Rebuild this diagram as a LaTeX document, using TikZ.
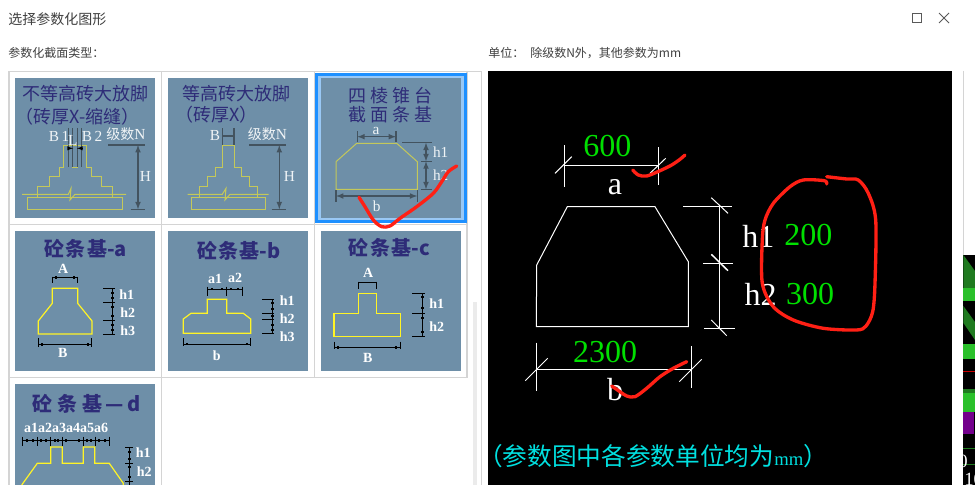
\documentclass[tikz,border=0pt]{standalone}
\usepackage{fontspec}
\setmainfont{Liberation Serif}
\newfontfamily\cjk{Noto Sans CJK SC}
\usetikzlibrary{calc}
\definecolor{panelblue}{HTML}{6E8FA8}
\definecolor{gridgray}{HTML}{D4D4D4}
\definecolor{selblue}{HTML}{1E90FF}
\definecolor{sellight}{HTML}{99C8F5}
\definecolor{titlenavy}{HTML}{2E2C78}
\definecolor{footyellow}{HTML}{C4C85A}
\definecolor{dimslate}{HTML}{43535F}
\definecolor{handred}{HTML}{FF2015}
\definecolor{cadgreen}{HTML}{00E000}
\definecolor{cadcyan}{HTML}{00E0E0}
\definecolor{stripe}{HTML}{2AC02A}
\definecolor{stripedark}{HTML}{1F7A1F}
\tikzset{
	uitext/.style={anchor=west,text=black!75,inner sep=0pt,font=\fontsize{#1}{#1}\selectfont\cjk},
	paneltitle/.style={text=titlenavy,inner sep=0pt,font=\fontsize{13.5}{13.5}\selectfont\cjk},
	boldtitle/.style={text=titlenavy,inner sep=0pt,font=\fontsize{15}{15}\selectfont\cjk\bfseries},
	softlabel/.style={text=white!90!panelblue,inner sep=0pt,font=\fontsize{11.5}{11.5}\selectfont},
	boldlabel/.style={text=white,inner sep=0pt,font=\fontsize{10.5}{10.5}\selectfont\bfseries},
	cadlabel/.style={text=white,inner sep=0pt,font=\fontsize{24}{24}\selectfont},
	cadvalue/.style={text=cadgreen,inner sep=0pt,font=\fontsize{24}{24}\selectfont},
	foot/.style={draw=footyellow,line width=0.75pt},
	footsharp/.style={draw=yellow!85!white,line width=0.9pt},
	softdim/.style={draw=dimslate,line width=0.9pt},
	harddim/.style={draw=black,line width=0.75pt},
	cadline/.style={draw=white,line width=0.75pt},
	hand/.style={draw=handred,line width=2.5pt,line cap=round,line join=round}
}
\def\panelbox(#1,#2)(#3,#4){\fill[panelblue] (#1,#2) rectangle (#3,#4);}
\def\dimdot(#1,#2){\fill[black] (#1-1.3,#2-1.3) rectangle (#1+1.3,#2+1.3);}
\def\fwopen{^^^^ff08}
\def\fwclose{^^^^ff09}
\def\fwcolon{^^^^ff1a}
\def\fwcomma{^^^^ff0c}
\begin{document}
\begin{tikzpicture}[x=0.75pt,y=-0.75pt,>=latex]
	\useasboundingbox (0,0) rectangle (975,485);
	%%%%% WINDOW %%%%%
	\fill[white] (0,0) rectangle (975,485);
	\node[uitext=10.5] (wintitle) at (8,19) {选择参数化图形};
	\node[uitext=9] (typelabel) at (8,53) {参数化截面类型\fwcolon};
	\node[uitext=9] (unitlabel) at (488,53) {单位\fwcolon};
	\node[uitext=9] (unitnote) at (530,53) {除级数N外\fwcomma 其他参数为mm};
	\draw[black!65,line width=0.75pt] (912.5,13.5) rectangle (921.5,22.5);
	\draw[black!65,line width=0.75pt] (939,13) -- (949,23);
	\draw[black!65,line width=0.75pt] (949,13) -- (939,23);
	%%%%% GRID %%%%%
	\draw[gridgray,line width=1pt] (9,485) -- (9,71.5) -- (481.5,71.5) -- (481.5,485);
	\draw[gridgray,line width=1pt] (467,71.5) -- (467,377.5) -- (9,377.5);
	\draw[gridgray,line width=1pt] (9,224.5) -- (467,224.5);
	\draw[gridgray,line width=1pt] (161.5,71.5) -- (161.5,485);
	\draw[gridgray,line width=1pt] (314.5,71.5) -- (314.5,377.5);
	\fill[black!8] (473,302) rectangle (477,485);
	%%%%% PANEL 1 %%%%%
	\panelbox(15,78)(155,218)
	\node[paneltitle] (bigfootA) at (85.5,94) {不等高砖大放脚};
	\node[paneltitle,anchor=west] (bigfootAb) at (15,117) {\fwopen 砖厚X-缩缝\fwclose};
	\draw[foot] (27.7,197.3) rectangle (122.7,209.3);
	\draw[foot] (37.7,197.3) -- (37.7,186.7) -- (49,186.7) -- (49,176.3) -- (59.3,176.3) -- (59.3,167.3) -- (63.3,167.3) -- (63.3,145) -- (86.7,145) -- (86.7,167.3) -- (91.7,167.3) -- (91.7,176.3) -- (101.7,176.3) -- (101.7,186.7) -- (112.7,186.7) -- (112.7,197.3);
	\draw[foot] (72.7,145) -- (72.7,167.3) -- (77.7,167.3) -- (77.7,145);
	\draw[foot] (22,194.3) -- (68.3,194.3) -- (71,188.3) -- (70,200) -- (75,194.3) -- (126,194.3);
	\draw[softdim] (108,145) -- (145,145);
	\draw[softdim,<->] (138,145) -- (138,209.3);
	\draw[softdim] (130.7,209.3) -- (145,209.3);
	\foreach \xpos in {68.3,72.7,77.7,81.7}
		\draw[dimslate,line width=0.5pt] (\xpos,128) -- (\xpos,167);
	\draw[black,line width=0.5pt,->] (68.3,148.3) -- (73,148.3);
	\draw[black,line width=0.5pt,->] (82,148.3) -- (77,148.3);
	\node[softlabel] (levelA) at (126,134.3) {{\cjk\fontsize{10.5}{10.5}\selectfont 级数}N};
	\node[softlabel] (heightA) at (145.3,176.7) {H};
	\node[softlabel] (widthone) at (59,136) {B\,1};
	\node[softlabel] (widthtwo) at (92,136) {B\,2};
	\node[softlabel] (slotL) at (72.7,140) {L};
	%%%%% PANEL 2 %%%%%
	\panelbox(168,78)(308,218)
	\node[paneltitle] (bigfootB) at (236,94) {等高砖大放脚};
	\node[paneltitle,anchor=west] (bigfootBb) at (175,115) {\fwopen 砖厚X\fwclose};
	\draw[foot] (191,197.3) rectangle (265.7,209.3);
	\draw[foot] (199,197.3) -- (199,186.7) -- (207.3,186.7) -- (207.3,176.3) -- (215.3,176.3) -- (215.3,167.3) -- (222.7,167.3) -- (222.7,145) -- (234,145) -- (234,167.3) -- (241,167.3) -- (241,176.3) -- (249.3,176.3) -- (249.3,186.7) -- (257.7,186.7) -- (257.7,197.3);
	\draw[foot] (187.7,194.3) -- (222.3,194.3) -- (226,188.3) -- (225,200) -- (230,194.3) -- (268.7,194.3);
	\draw[softdim] (249,145) -- (286,145);
	\draw[softdim,<->] (279.3,145) -- (279.3,209.3);
	\draw[softdim] (271.7,209.3) -- (286,209.3);
	\draw[softdim] (222.7,128.3) -- (222.7,145);
	\draw[softdim] (234,128.3) -- (234,145);
	\draw[softdim] (222.7,136) -- (234,136);
	\node[softlabel] (levelB) at (267.3,134) {{\cjk\fontsize{10.5}{10.5}\selectfont 级数}N};
	\node[softlabel] (heightB) at (289.3,176.7) {H};
	\node[softlabel] (widthB) at (215,136) {B};
	%%%%% PANEL 3 %%%%%
	\fill[selblue] (315,73) rectangle (467,223);
	\fill[sellight] (318,76) rectangle (464,220);
	\panelbox(321,78)(461,218)
	\node[paneltitle] (frustumA) at (390.5,96) {四\hspace{3pt}棱\hspace{3pt}锥\hspace{3pt}台};
	\node[paneltitle] (frustumB) at (390.5,115) {截\hspace{3pt}面\hspace{3pt}条\hspace{3pt}基};
	\draw[foot] (336,189.3) -- (336,161.7) -- (356.7,143.3) -- (396.7,143.3) -- (417.3,161.7) -- (417.3,189.3) -- cycle;
	\draw[softdim,<->] (357.3,136.7) -- (396,136.7);
	\draw[softdim] (357.3,131.3) -- (357.3,142.3);
	\draw[softdim] (396,131.3) -- (396,142.3);
	\draw[softdim] (402.3,142.7) -- (431.7,142.7);
	\draw[softdim,<->] (426,142.7) -- (426,161.3);
	\draw[softdim,<->] (426,161.3) -- (426,189.3);
	\draw[softdim] (421,161.3) -- (431.7,161.3);
	\draw[softdim] (421,189.3) -- (431.7,189.3);
	\draw[softdim,<->] (336,196) -- (417.3,196);
	\draw[softdim] (336,190) -- (336,201.7);
	\draw[softdim] (417.3,190) -- (417.3,201.7);
	\node[softlabel] (topa) at (376,130.7) {a};
	\node[softlabel] (hone) at (440.7,152.3) {h1};
	\node[softlabel] (htwo) at (440.7,175) {h2};
	\node[softlabel] (baseb) at (376.7,206.7) {b};
	\draw[hand] plot[smooth] coordinates {(359,197.3) (365,206.7) (373.3,220) (381.7,226.7) (390,226) (400,218.3) (416.7,206.7) (433.3,193.3) (441.7,181.7) (448.3,171.7) (456.7,166)};
	%%%%% PANEL A %%%%%
	\panelbox(15,231)(155,371)
	\node[boldtitle] (stripA) at (85.8,249) {砼\hspace{1pt}条\hspace{1pt}基-a};
	\draw[footsharp] (52.3,288.3) -- (77.7,288.3) -- (77.7,303.3) -- (92,321) -- (92,334) -- (38.3,334) -- (38.3,321) -- (52.3,303.3) -- cycle;
	\draw[harddim] (52.3,277.3) -- (77.7,277.3);
	\draw[harddim] (52.3,276.7) -- (52.3,283.3);
	\draw[harddim] (77.7,276.7) -- (77.7,283.3);
	\foreach \ypos in {288.3,302.3,320.3,334}
		\draw[harddim] (103.3,\ypos) -- (115,\ypos);
	\draw[harddim] (112.3,288.3) -- (112.3,334);
	\draw[harddim] (38.3,344.3) -- (91.7,344.3);
	\draw[harddim] (38.3,338.3) -- (38.3,346.7);
	\draw[harddim] (91.7,338.3) -- (91.7,346.7);
	\dimdot(56,277.3) \dimdot(74,277.3)
	\dimdot(42,344.3) \dimdot(88,344.3)
	\foreach \ypos in {293,298,307,316,325,330}
		{\dimdot(112.3,\ypos)}
	\node[boldlabel] (labelA) at (63.3,269.3) {A};
	\node[boldlabel] (aone) at (126.7,294.3) {h1};
	\node[boldlabel] (atwo) at (127.7,312.7) {h2};
	\node[boldlabel] (athree) at (127.7,330.7) {h3};
	\node[boldlabel] (labelB) at (62.7,353.3) {B};
	%%%%% PANEL B %%%%%
	\panelbox(168,231)(308,371)
	\node[boldtitle] (stripB) at (239,251) {砼\hspace{1pt}条\hspace{1pt}基-b};
	\draw[footsharp] (207.3,299.3) -- (226.7,299.3) -- (226.7,313.3) -- (243.3,313.3) -- (250.7,319) -- (250.7,333.3) -- (183.3,333.3) -- (183.3,319) -- (191,313.3) -- (207.3,313.3) -- cycle;
	\draw[harddim] (207.3,289) -- (242.7,289);
	\foreach \xpos in {207.3,226.7,242.7}
		\draw[harddim] (\xpos,286.7) -- (\xpos,295.7);
	\foreach \ypos in {299.3,313.3,319.3,333}
		\draw[harddim] (262.3,\ypos) -- (274,\ypos);
	\draw[harddim] (272.3,299.3) -- (272.3,333);
	\draw[harddim] (183.3,344) -- (250.7,344);
	\draw[harddim] (183.3,338.3) -- (183.3,346);
	\draw[harddim] (250.7,338.3) -- (250.7,346);
	\dimdot(212,289) \dimdot(222,289) \dimdot(231,289) \dimdot(238,289)
	\dimdot(187,344) \dimdot(247,344)
	\foreach \ypos in {303,309,316,325,330}
		{\dimdot(272.3,\ypos)}
	\node[boldlabel] (bsplitA) at (215,279) {a1};
	\node[boldlabel] (bsplitB) at (235,278.3) {a2};
	\node[boldlabel] (bone) at (287.3,301) {h1};
	\node[boldlabel] (btwo) at (287.3,319) {h2};
	\node[boldlabel] (bthree) at (287.3,337) {h3};
	\node[boldlabel] (labelb) at (216.7,355.3) {b};
	%%%%% PANEL C %%%%%
	\panelbox(321,231)(461,371)
	\node[boldtitle] (stripC) at (389.5,248.3) {砼\hspace{1pt}条\hspace{1pt}基-c};
	\draw[footsharp] (358.3,293.3) -- (376.3,293.3) -- (376.3,313.3) -- (400.7,313.3) -- (400.7,336.3) -- (334,336.3) -- (334,313.3) -- (358.3,313.3) -- cycle;
	\draw[harddim] (358.3,282.3) -- (376.3,282.3);
	\draw[harddim] (358.3,281.7) -- (358.3,289);
	\draw[harddim] (376.3,281.7) -- (376.3,289);
	\foreach \ypos in {293.3,313.7,336.3}
		\draw[harddim] (412,\ypos) -- (424.7,\ypos);
	\draw[harddim] (422.3,293.3) -- (422.3,336.3);
	\draw[harddim] (334,347.3) -- (400.3,347.3);
	\draw[harddim] (334,341.7) -- (334,349.3);
	\draw[harddim] (400.3,341.7) -- (400.3,349.3);
	\dimdot(338,347.3) \dimdot(396,347.3)
	\foreach \ypos in {297,308,318,332}
		{\dimdot(422.3,\ypos)}
	\node[boldlabel] (labelCA) at (368.3,273.3) {A};
	\node[boldlabel] (cone) at (436.7,304) {h1};
	\node[boldlabel] (ctwo) at (436.7,326.7) {h2};
	\node[boldlabel] (labelCB) at (367.7,357.7) {B};
	%%%%% PANEL D %%%%%
	\panelbox(15,384)(155,485)
	\node[boldtitle] (stripD) at (86.7,404.3) {砼\hspace{4pt}条\hspace{4pt}基\hspace{2pt}—\hspace{3pt}d};
	\node[boldlabel] (sixparts) at (66,427.7) {a1a2a3a4a5a6};
	\draw[harddim] (22.7,440.7) -- (109,440.7);
	\foreach \xpos in {22.7,37.3,50.7,62.3,83.3,95,109}
		\draw[harddim] (\xpos,436.7) -- (\xpos,445.7);
	\foreach \xpos in {27,33,41,46,55,58,66,79,87,91,99,105}
		{\dimdot(\xpos,440.7)}
	\draw[footsharp] (21.7,485) -- (37.3,463.3) -- (50.7,463.3) -- (50.7,447) -- (62.3,447) -- (62.3,463.3) -- (83.3,463.3) -- (83.3,447) -- (94.7,447) -- (94.7,463.3) -- (109.3,463.3) -- (123.3,483.3) -- (123.3,485);
	\foreach \ypos in {447.7,463.3,481.7}
		\draw[harddim] (125,\ypos) -- (133.3,\ypos);
	\draw[harddim] (129.3,447.7) -- (129.3,485);
	\foreach \ypos in {452,459,467,477}
		{\dimdot(129.3,\ypos)}
	\node[boldlabel] (done) at (143.3,452.3) {h1};
	\node[boldlabel] (dtwo) at (144.3,471.7) {h2};
	%%%%% BLACK PREVIEW %%%%%
	\fill[black] (488,71) rectangle (952,485);
	\draw[cadline] (536.3,326.7) -- (688.3,326.7) -- (688.3,261.7) -- (655,206.7) -- (567.3,206.7) -- (536.7,265) -- cycle;
	\draw[cadline] (564.3,165.3) -- (658.3,165.3);
	\draw[cadline] (564.3,145) -- (564.3,186.7);
	\draw[cadline] (658.3,147.3) -- (658.3,185.3);
	\draw[cadline] (555,173.3) -- (571.7,156.7);
	\draw[cadline] (650,173.3) -- (665.7,158.3);
	\draw[cadline] (683.3,206.7) -- (731.7,206.7);
	\draw[cadline] (703.3,263.3) -- (732.7,263.3);
	\draw[cadline] (704,328.3) -- (735,328.3);
	\draw[cadline] (719.7,205) -- (719.7,328.3);
	\draw[cadline] (711.3,197.7) -- (728,213.3);
	\draw[cadline,line width=1.1pt] (711.3,254.3) -- (728,270.7);
	\draw[cadline] (711.3,320) -- (726.7,335.7);
	\draw[cadline] (536.3,369.3) -- (691.3,369.3);
	\draw[cadline] (536.3,342.7) -- (536.3,390.7);
	\draw[cadline] (691.3,346) -- (691.3,388.3);
	\draw[cadline] (525.3,380.7) -- (547.7,358.3);
	\draw[cadline] (679.3,381.7) -- (701.7,359.3);
	\node[cadvalue] (topvalue) at (607.3,146) {600};
	\node[cadlabel] (toplabel) at (615,187.3) {a};
	\node[cadvalue] (basevalue) at (605,351.7) {2300};
	\node[cadlabel] (baselabel) at (615,389.3) {b};
	\node[cadlabel] (honelabel) at (758.3,236) {h1};
	\node[cadlabel] (htwolabel) at (760.7,294.3) {h2};
	\node[cadvalue] (honevalue) at (808.3,235) {200};
	\node[cadvalue] (htwovalue) at (810,294.3) {300};
	\draw[hand] plot[smooth] coordinates {(632.7,170) (638.3,175) (646.7,176) (660,170.7) (671.7,165) (680,159.3) (685,155)};
	\draw[hand] plot[smooth] coordinates {(611.7,386) (620,391.7) (626.7,396) (635,396.7) (646.7,388.3) (660,376.7) (673.3,368.3) (686.7,361.7)};
	\draw[hand] plot[smooth] coordinates {(826.7,184) (824.3,180.7) (803.3,180) (790,186.7) (773.3,203.3) (765,220) (762.3,240) (762.3,283.3) (773.3,306.7) (793.3,320) (823.3,328.3) (856.7,330) (866,326) (872.7,311.7) (875,283.3) (875.7,220) (868.3,193.3) (858.3,180) (846.7,179) (826.7,176.7)};
	\node[anchor=west,text=cadcyan,inner sep=0pt,font=\fontsize{18.5}{18.5}\selectfont] (cadnote) at (478,455.7) {{\cjk \fwopen 参数图中各参数单位均为}{\fontsize{14}{14}\selectfont mm}{\cjk \fwclose}};
	%%%%% RIGHT EDGE %%%%%
	\draw[gridgray,line width=0.75pt] (963,71) -- (963,485);
	\fill[black] (963.4,255) rectangle (975,485);
	\fill[stripedark] (963.4,255) -- (975,271) -- (975,288) -- (963.4,288) -- cycle;
	\fill[stripe] (963.4,288) rectangle (975,300.7);
	\fill[stripedark] (963.4,306) -- (975,322) -- (975,340) -- (963.4,323) -- cycle;
	\fill[stripe] (963.4,344) rectangle (975,359);
	\draw[red!80!black,line width=0.5pt] (963.4,371) -- (975,371);
	\fill[stripedark] (963.4,389) rectangle (975,393);
	\fill[stripe] (963.4,393) rectangle (975,412);
	\fill[violet!90!blue] (963.4,412) rectangle (974,434);
	\draw[stripedark,line width=0.5pt] (963.4,448) -- (975,448);
	\draw[stripedark,line width=0.5pt] (963.4,464) -- (975,464);
	\begin{scope}
		\clip (963.4,440) rectangle (975,485);
		\node[text=white,inner sep=0pt,font=\fontsize{14}{14}\selectfont] (edgezero) at (963,461) {0};
		\node[text=white,inner sep=0pt,font=\fontsize{14}{14}\selectfont,anchor=west] (edgeten) at (964,479) {10};
	\end{scope}
	%%%%% END %%%%%
\end{tikzpicture}
\end{document}
